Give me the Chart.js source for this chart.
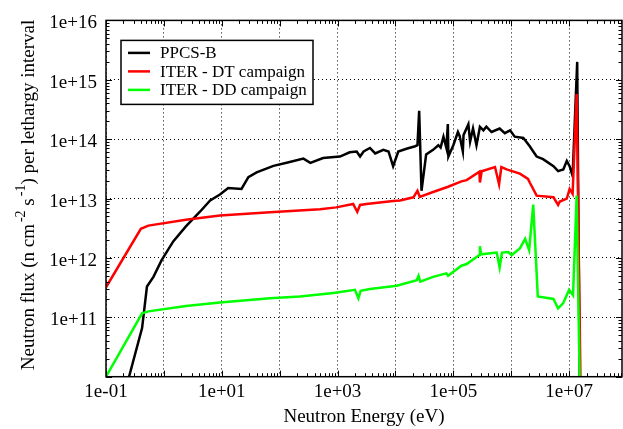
<!DOCTYPE html>
<html lang="en">
<head>
    <meta charset="UTF-8">
    <title>Neutron flux per lethargy interval</title>
    <script src="https://cdn.jsdelivr.net/npm/chart.js@4"></script>
    <style>
        body {
            margin: 0;
            background-color: #fff;
        }
        #wrap {
            width: 623px;
            height: 429px;
        }
    </style>
</head>
<body>
    <div id="wrap"><canvas id="fluxChart" width="623" height="429"></canvas></div>

    <script>
        // PPCS-B spectrum (energy in eV, flux in n cm^-2 s^-1 per lethargy)
        const ppcsEnergy = [0.25, 0.42, 0.51, 0.66, 0.91, 1.45, 2.4, 4.2, 6.3, 9.3, 12.9, 21.9, 28.8, 40, 78, 132, 257, 339, 562,
            1100, 1620, 2140, 2450, 2820, 3630, 4470, 6170, 7590, 9120, 11200, 15500, 21900, 24000, 25700, 28200, 33900,
            44700, 55000, 60300, 67600, 75900, 80400, 82200, 1.0e5, 1.2e5, 1.29e5, 1.46e5, 1.50e5, 1.82e5, 1.95e5, 2.19e5,
            2.51e5, 2.88e5, 3.31e5, 3.72e5, 4.57e5, 6.31e5, 7.76e5, 9.55e5, 1.15e6, 1.62e6, 2.09e6, 2.40e6, 2.75e6, 3.55e6,
            5.37e6, 6.46e6, 7.94e6, 9.12e6, 1.02e7, 1.15e7, 1.38e7, 1.55e7];
        const ppcsFlux = [1.0e10, 6.6e10, 3.3e11, 4.8e11, 9.1e11, 1.9e12, 3.4e12, 6.0e12, 9.3e12, 1.17e13, 1.51e13, 1.45e13, 2.3e13,
            2.75e13, 3.55e13, 4.0e13, 4.7e13, 4.0e13, 4.8e13, 5.1e13, 6.0e13, 6.2e13, 5.1e13, 6.2e13, 7.1e13, 5.75e13, 6.6e13,
            6.2e13, 3.5e13, 6.2e13, 6.9e13, 7.6e13, 7.9e13, 3.0e14, 1.35e13, 5.5e13, 6.6e13, 7.9e13, 7.2e13, 1.1e14, 7.1e13,
            1.8e14, 5.1e13, 7.9e13, 1.32e14, 1.12e14, 6.2e13, 1.17e14, 1.78e14, 9.1e13, 1.51e14, 7.9e13, 1.62e14, 1.41e14,
            1.62e14, 1.32e14, 1.51e14, 1.26e14, 1.41e14, 1.1e14, 1.05e14, 7.6e13, 6.2e13, 5.1e13, 4.6e13, 3.5e13, 2.9e13,
            3.1e13, 4.3e13, 3.5e13, 2.4e13, 2.0e15, 1.0e9];

        // ITER - DT campaign
        const dtEnergy = [0.1, 0.4, 0.54, 2.4, 9.3, 68, 500, 950, 1860, 2190, 2450, 3160, 9100, 12000, 20400, 24000, 26300,
            44700, 81300, 1.38e5, 1.70e5, 2.82e5, 2.88e5, 3.09e5, 5.25e5, 6.17e5, 6.76e5, 8.32e5, 1.41e6, 1.95e6, 2.09e6,
            2.75e6, 5.37e6, 6.46e6, 6.92e6, 9.12e6, 1.02e7, 1.15e7, 1.35e7, 1.62e7];
        const dtFlux = [3.2e11, 3.1e12, 3.5e12, 4.4e12, 5.2e12, 5.9e12, 6.6e12, 7.1e12, 8.1e12, 6.0e12, 7.8e12, 8.1e12, 9.1e12,
            9.3e12, 1.05e13, 1.35e13, 1.07e13, 1.29e13, 1.58e13, 1.95e13, 2.04e13, 2.82e13, 1.86e13, 2.88e13, 3.39e13, 1.74e13,
            3.39e13, 3.09e13, 2.63e13, 2.14e13, 1.86e13, 1.12e13, 1.05e13, 7.8e12, 8.9e12, 1.0e13, 1.45e13, 1.2e13, 5.75e14, 1.0e9];

        // ITER - DD campaign
        const ddEnergy = [0.1, 0.42, 0.54, 2.4, 9.3, 68, 224, 850, 2000, 2290, 2510, 3630, 10500, 23400, 25100, 26900, 44700,
            75900, 81300, 1.38e5, 1.70e5, 2.82e5, 2.88e5, 3.02e5, 5.62e5, 6.31e5, 6.92e5, 8.91e5, 1.02e6, 1.41e6, 1.74e6,
            2.04e6, 2.40e6, 2.88e6, 5.37e6, 6.46e6, 7.94e6, 1.0e7, 1.17e7, 1.35e7, 1.58e7];
        const ddFlux = [1.0e10, 1.17e11, 1.26e11, 1.55e11, 1.78e11, 2.1e11, 2.24e11, 2.57e11, 2.9e11, 2.1e11, 2.8e11, 3.0e11,
            3.4e11, 4.2e11, 5.0e11, 4.0e11, 4.8e11, 5.5e11, 5.0e11, 7.4e11, 7.9e11, 1.12e12, 1.58e12, 1.15e12, 1.23e12, 6.9e11,
            1.23e12, 1.26e12, 1.12e12, 1.45e12, 2.1e12, 1.35e12, 7.9e12, 2.24e11, 2.04e11, 1.41e11, 1.74e11, 2.9e11, 2.34e11,
            1.12e13, 1.0e9];

        const seriesNames = ['PPCS-B', 'ITER - DT campaign', 'ITER - DD campaign'];
        const seriesColors = ['#000000', '#ff0000', '#00ff00'];

        const xMin = 0.1;
        const xMax = 8.2e7;
        const yMin = 1e10;
        const yMax = 1e16;
        const xTickValues = [0.1, 1, 10, 1e2, 1e3, 1e4, 1e5, 1e6, 1e7];
        const yTickValues = [1e10, 1e11, 1e12, 1e13, 1e14, 1e15, 1e16];

        const serif = "'Liberation Serif', 'Times New Roman', serif";

        function toPoints(xs, ys) {
            return xs.map((x, i) => ({ x: x, y: ys[i] }));
        }

        function expLabel(v) {
            const e = Math.round(Math.log10(v));
            return '1e' + (e < 0 ? '-' : '+') + String(Math.abs(e)).padStart(2, '0');
        }

        // box border + inward major/minor ticks on all four sides
        const framePlugin = {
            id: 'frame',
            afterDraw(chart) {
                const { ctx, chartArea: a, scales: { x, y } } = chart;
                ctx.save();
                ctx.strokeStyle = '#000';
                ctx.lineWidth = 1;
                ctx.beginPath();
                for (let e = -1; e <= 7; e++) {
                    for (let m = 1; m <= 9; m++) {
                        const px = Math.round(x.getPixelForValue(m * Math.pow(10, e))) + 0.5;
                        if (px < a.left || px > a.right) continue;
                        const len = m === 1 ? 6 : 3.5;
                        ctx.moveTo(px, a.bottom); ctx.lineTo(px, a.bottom - len);
                        ctx.moveTo(px, a.top); ctx.lineTo(px, a.top + len);
                    }
                }
                for (let e = 10; e <= 16; e++) {
                    for (let m = 1; m <= 9; m++) {
                        const v = m * Math.pow(10, e);
                        if (v > yMax) break;
                        const py = Math.round(y.getPixelForValue(v)) + 0.5;
                        const len = m === 1 ? 6 : 3.5;
                        ctx.moveTo(a.left, py); ctx.lineTo(a.left + len, py);
                        ctx.moveTo(a.right, py); ctx.lineTo(a.right - len, py);
                    }
                }
                ctx.stroke();
                ctx.lineWidth = 1.5;
                ctx.strokeRect(a.left, a.top, a.right - a.left, a.bottom - a.top);
                ctx.restore();
            }
        };

        // boxed legend in the upper left of the plot
        const legendPlugin = {
            id: 'boxLegend',
            afterDraw(chart) {
                const { ctx, chartArea: a } = chart;
                const left = a.left + 15, top = a.top + 20, w = 192, h = 64;
                ctx.save();
                ctx.fillStyle = '#fff';
                ctx.fillRect(left, top, w, h);
                ctx.strokeStyle = '#000';
                ctx.lineWidth = 1.5;
                ctx.strokeRect(left, top, w, h);
                ctx.font = '17px ' + serif;
                ctx.textBaseline = 'middle';
                ctx.textAlign = 'left';
                chart.data.datasets.forEach((ds, i) => {
                    const ry = top + 12.5 + i * 18.5;
                    ctx.strokeStyle = ds.borderColor;
                    ctx.lineWidth = 2.5;
                    ctx.beginPath();
                    ctx.moveTo(left + 7, ry);
                    ctx.lineTo(left + 29, ry);
                    ctx.stroke();
                    ctx.fillStyle = '#000';
                    ctx.fillText(ds.label, left + 39, ry + 1);
                });
                ctx.restore();
            }
        };

        // rotated y title with real superscripts
        const yTitlePlugin = {
            id: 'yTitle',
            afterDraw(chart) {
                const ctx = chart.ctx;
                const parts = [
                    ['Neutron flux (n cm', false], ['-2', true], [' s', false], ['-1', true], [') per lethargy interval', false]
                ];
                const baseFont = '19px ' + serif;
                const supFont = '14px ' + serif;
                ctx.save();
                let total = 0;
                parts.forEach(p => {
                    ctx.font = p[1] ? supFont : baseFont;
                    total += ctx.measureText(p[0]).width + (p[1] ? 2 : 0);
                });
                ctx.translate(34, 195);
                ctx.rotate(-Math.PI / 2);
                ctx.fillStyle = '#000';
                ctx.textAlign = 'left';
                ctx.textBaseline = 'alphabetic';
                let pos = -total / 2;
                parts.forEach(p => {
                    ctx.font = p[1] ? supFont : baseFont;
                    if (p[1]) pos += 2;
                    ctx.fillText(p[0], pos, p[1] ? -9 : 0);
                    pos += ctx.measureText(p[0]).width;
                });
                ctx.restore();
            }
        };

        const ctx = document.getElementById('fluxChart').getContext('2d');
        new Chart(ctx, {
            type: 'scatter',
            data: {
                datasets: [
                    { label: seriesNames[0], data: toPoints(ppcsEnergy, ppcsFlux), borderColor: seriesColors[0], order: 2 },
                    { label: seriesNames[1], data: toPoints(dtEnergy, dtFlux), borderColor: seriesColors[1], order: 1 },
                    { label: seriesNames[2], data: toPoints(ddEnergy, ddFlux), borderColor: seriesColors[2], order: 0 }
                ]
            },
            options: {
                responsive: false,
                animation: false,
                devicePixelRatio: 1,
                showLine: true,
                layout: { padding: { top: 13, right: 1, left: 0, bottom: 0 } },
                elements: {
                    point: { radius: 0, hoverRadius: 0 },
                    line: { borderWidth: 2.5, tension: 0, fill: false }
                },
                plugins: {
                    legend: { display: false },
                    tooltip: { enabled: false }
                },
                scales: {
                    x: {
                        type: 'logarithmic',
                        position: 'bottom',
                        min: xMin,
                        max: xMax,
                        afterBuildTicks: s => { s.ticks = xTickValues.map(v => ({ value: v })); },
                        afterFit: s => { s.height = 52.3; },
                        ticks: {
                            autoSkip: false,
                            maxRotation: 0,
                            color: '#000',
                            padding: 4,
                            font: { family: serif, size: 19 },
                            callback: v => (Math.abs(Math.round(Math.log10(v)) % 2) === 1 ? expLabel(v) : '')
                        },
                        grid: { color: '#000', lineWidth: 1, drawTicks: false },
                        border: { display: false, dash: [1, 3] },
                        title: {
                            display: true,
                            text: 'Neutron Energy (eV)',
                            color: '#000',
                            font: { family: serif, size: 19 },
                            padding: { top: 0, bottom: 1 }
                        }
                    },
                    y: {
                        type: 'logarithmic',
                        min: yMin,
                        max: yMax,
                        afterBuildTicks: s => { s.ticks = yTickValues.map(v => ({ value: v })); },
                        afterFit: s => { s.width = 106; },
                        ticks: {
                            autoSkip: false,
                            color: '#000',
                            padding: 9,
                            labelOffset: 3,
                            font: { family: serif, size: 19 },
                            callback: v => (v < 1e11 * 0.99 ? '' : expLabel(v))
                        },
                        grid: { color: '#000', lineWidth: 1, drawTicks: false },
                        border: { display: false, dash: [1, 3] }
                    }
                }
            },
            plugins: [framePlugin, legendPlugin, yTitlePlugin]
        });
    </script>
</body>
</html>
